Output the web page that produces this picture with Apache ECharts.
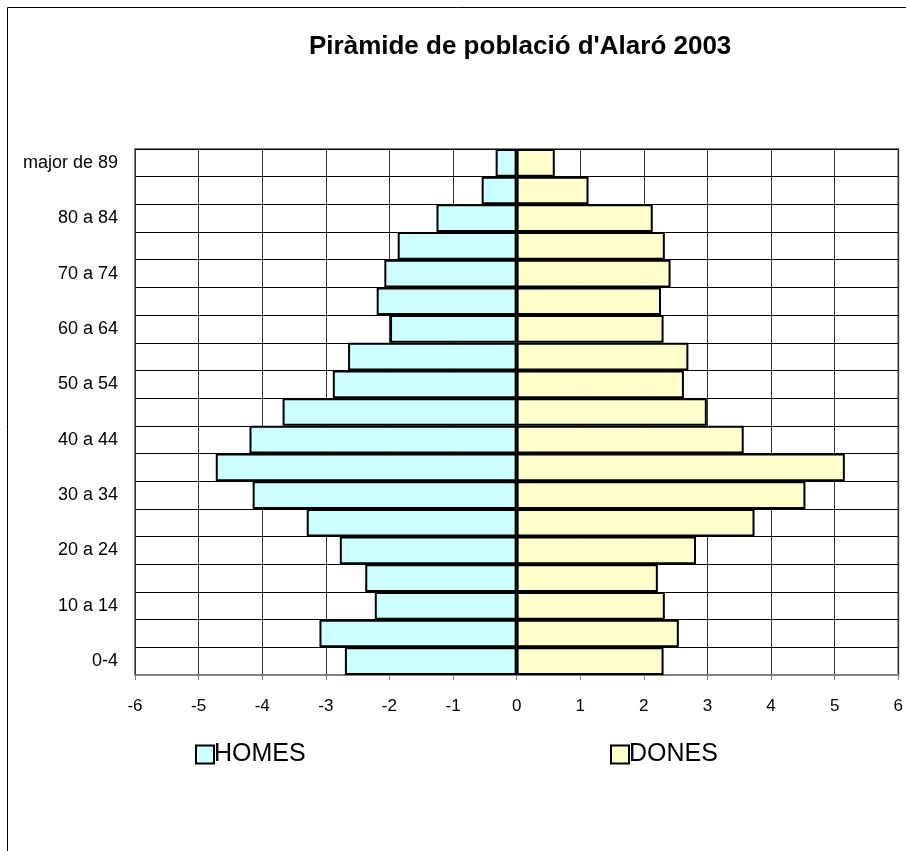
<!DOCTYPE html>
<html>
<head>
<meta charset="utf-8">
<script src="https://cdn.jsdelivr.net/npm/echarts@6/dist/echarts.min.js"></script>
<style>
  html, body { margin: 0; padding: 0; background: #fff; }
  #chart { width: 906px; height: 851px; }
</style>
</head>
<body>
<div id="chart"></div>
<script>
// grups d'edat, de baix a dalt
const ageGroups = ['0-4', '5-9', '10 a 14', '15 a 19', '20 a 24', '25 a 29', '30 a 34', '35 a 39',
  '40 a 44', '45 a 49', '50 a 54', '55 a 59', '60 a 64', '65 a 69', '70 a 74', '75 a 79',
  '80 a 84', '85 a 89', 'major de 89']
// percentatges (homes en negatiu)
const homes = [-2.70, -3.10, -2.23, -2.38, -2.78, -3.30, -4.15, -4.73, -4.20, -3.68,
  -2.89, -2.65, -1.99, -2.20, -2.08, -1.87, -1.26, -0.55, -0.33]
const dones = [2.31, 2.55, 2.33, 2.22, 2.82, 3.74, 4.54, 5.16, 3.57, 2.99,
  2.63, 2.70, 2.31, 2.27, 2.42, 2.33, 2.14, 1.13, 0.60]

const font = 'Liberation Sans, Arial, sans-serif'
const chart = echarts.init(document.getElementById('chart'))

chart.setOption({
  backgroundColor: '#fff',
  animation: false,
  title: {
    text: "Piràmide de població d'Alaró 2003",
    left: 304,
    top: 29,
    textStyle: { fontFamily: font, fontSize: 26, fontWeight: 'bold', color: '#000' }
  },
  graphic: [{
    type: 'rect',
    shape: { x: 7.5, y: 7.5, width: 1000, height: 1000 },
    style: { fill: 'none', stroke: '#000', lineWidth: 1 },
    silent: true
  }],
  legend: [
    {
      data: ['HOMES'],
      left: 190, top: 737,
      itemWidth: 18, itemHeight: 18, itemGap: 0,
      icon: 'rect',
      textStyle: { fontFamily: font, fontSize: 25, color: '#000', padding: [0, 0, 0, -5] }
    },
    {
      data: ['DONES'],
      left: 605, top: 737,
      itemWidth: 18, itemHeight: 18, itemGap: 0,
      icon: 'rect',
      textStyle: { fontFamily: font, fontSize: 25, color: '#000', padding: [0, 0, 0, -5] }
    }
  ],
  grid: {
    left: 135, right: 3, top: 149, bottom: 176,
    show: true, borderColor: '#808080', borderWidth: 2,
    containLabel: false
  },
  xAxis: {
    type: 'value',
    min: -6, max: 6, interval: 1,
    axisLine: { show: true, lineStyle: { color: '#808080', width: 2 } },
    axisTick: { show: true, length: 5, lineStyle: { color: '#808080' } },
    axisLabel: { margin: 23, fontFamily: font, fontSize: 17, color: '#000' },
    splitLine: { show: true, lineStyle: { color: '#333', width: 1 } }
  },
  yAxis: {
    type: 'category',
    data: ageGroups,
    axisLine: { show: false, onZero: false },
    axisTick: { show: false },
    axisLabel: { interval: 1, margin: 17, fontFamily: font, fontSize: 18, color: '#000' },
    splitLine: { show: true, interval: 0, lineStyle: { color: '#000', width: 1 } }
  },
  series: [
    {
      name: 'HOMES',
      type: 'bar',
      stack: 'pob',
      data: homes,
      barCategoryGap: '0%',
      itemStyle: { color: '#CCFFFF', borderColor: '#000', borderWidth: 2 }
    },
    {
      name: 'DONES',
      type: 'bar',
      stack: 'pob',
      data: dones,
      barCategoryGap: '0%',
      itemStyle: { color: '#FFFFCC', borderColor: '#000', borderWidth: 2 }
    }
  ]
})
</script>
</body>
</html>
